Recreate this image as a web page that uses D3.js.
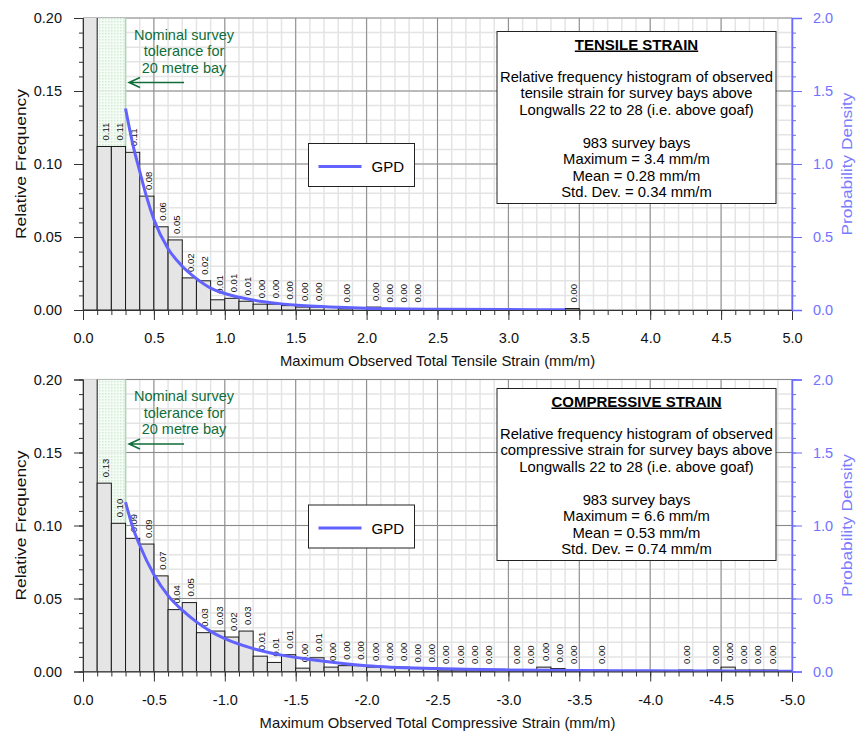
<!DOCTYPE html>
<html>
<head>
<meta charset="utf-8">
<script src="https://cdn.jsdelivr.net/npm/d3@7"></script>
<style>
  body { margin: 0; background: #fff; }
  svg { font-family: "Liberation Sans", Arial, sans-serif; }
</style>
</head>
<body>
<div id="chart"></div>
<script>
// bins are 0.1 mm/m wide, starting at 0.0
const binWidth = 0.1;
const tensileFreq = [
    0.400, 0.112, 0.112, 0.108, 0.078, 0.057, 0.048, 0.022, 0.020, 0.007,
    0.008, 0.006, 0.004, 0.004, 0.003, 0.002, 0.002, 0, 0.001, 0,
    0.002, 0.001, 0.001, 0.001, 0, 0, 0, 0, 0, 0,
    0, 0, 0, 0, 0.001, 0, 0, 0, 0, 0,
    0, 0, 0, 0, 0, 0, 0, 0, 0, 0
];
const compressiveFreq = [
    0.240, 0.129, 0.1015, 0.0912, 0.0873, 0.0655, 0.0424, 0.0472, 0.0266, 0.0277,
    0.0236, 0.0277, 0.0105, 0.0062, 0.0115, 0.0023, 0.0094, 0.003, 0.004, 0.004,
    0.003, 0.003, 0.003, 0.002, 0.002, 0.001, 0.001, 0.001, 0.001, 0,
    0.001, 0.001, 0.003, 0.002, 0.001, 0, 0.001, 0, 0, 0,
    0, 0, 0.001, 0, 0.001, 0.003, 0.001, 0.001, 0.001, 0
];

// fitted GPD curves
const tensileGpdX = [0.3, 0.35, 0.4, 0.45, 0.5, 0.6, 0.7, 0.8, 0.9, 1.0, 1.2, 1.4, 1.6, 1.8, 2.0, 2.5, 3.0, 3.4];
const tensileGpdY = [1.38, 1.14, 0.95, 0.77, 0.62, 0.42, 0.30, 0.215, 0.15, 0.113, 0.068, 0.042, 0.027, 0.018, 0.012, 0.005, 0.003, 0.002];
const compressiveGpdX = [0.3, 0.35, 0.4, 0.5, 0.6, 0.7, 0.8, 0.9, 1.0, 1.2, 1.4, 1.6, 1.8, 2.0, 2.5, 3.0, 3.5, 4.0, 4.5, 5.0];
const compressiveGpdY = [1.16, 0.99, 0.865, 0.665, 0.52, 0.42, 0.34, 0.275, 0.225, 0.157, 0.112, 0.082, 0.058, 0.04, 0.02, 0.011, 0.007, 0.005, 0.003, 0.002];

const xMajorTicks = [0, 0.5, 1.0, 1.5, 2.0, 2.5, 3.0, 3.5, 4.0, 4.5, 5.0];
const freqTicks = [0, 0.05, 0.10, 0.15, 0.20];
const densityTicks = [0, 0.5, 1.0, 1.5, 2.0];
const tolerance = 0.3;
const toleranceText = ["Nominal survey", "tolerance for", "20 metre bay"];

const tensileInfo = ["Relative frequency histogram of observed", "tensile strain for survey bays above",
    "Longwalls 22 to 28 (i.e. above goaf)", "", "983 survey bays", "Maximum = 3.4 mm/m",
    "Mean = 0.28 mm/m", "Std. Dev. = 0.34 mm/m"];
const compressiveInfo = ["Relative frequency histogram of observed", "compressive strain for survey bays above",
    "Longwalls 22 to 28 (i.e. above goaf)", "", "983 survey bays", "Maximum = 6.6 mm/m",
    "Mean = 0.53 mm/m", "Std. Dev. = 0.74 mm/m"];

const width = 858, height = 731;
const left = 83, right = 792, plotH = 292;
const gpdColor = "#6262ff";
const green = "#0f6e3a";

const svg = d3.select("#chart").append("svg")
    .attr("width", width)
    .attr("height", height);

const defs = svg.append("defs");
const pat = defs.append("pattern")
    .attr("id", "dots")
    .attr("width", 3).attr("height", 3)
    .attr("patternUnits", "userSpaceOnUse");
pat.append("rect").attr("width", 3).attr("height", 3).attr("fill", "#f4fbf5");
pat.append("rect").attr("width", 1.5).attr("height", 1.5).attr("fill", "#cdeccf");

const x = d3.scaleLinear().domain([0, 5]).range([left, right]);

function drawPanel(opts) {
    const top = opts.top, bottom = top + plotH;
    const y = d3.scaleLinear().domain([0, 0.2]).range([bottom, top]);
    const yd = d3.scaleLinear().domain([0, 2]).range([bottom, top]);
    const g = svg.append("g");

    defs.append("clipPath").attr("id", opts.id + "clip")
        .append("rect").attr("x", left).attr("y", top)
        .attr("width", right - left).attr("height", plotH);

    // grid
    const minorX = d3.range(0, 51).map(i => i / 10);
    const minorY = d3.range(0, 21).map(i => i / 100);
    g.append("g").selectAll("line").data(minorX).enter().append("line")
        .attr("x1", d => x(d)).attr("x2", d => x(d))
        .attr("y1", top).attr("y2", bottom)
        .attr("stroke", "#e4e4e4").attr("stroke-width", 1.5);
    g.append("g").selectAll("line").data(minorY).enter().append("line")
        .attr("x1", left).attr("x2", right)
        .attr("y1", d => y(d)).attr("y2", d => y(d))
        .attr("stroke", "#e4e4e4").attr("stroke-width", 1.5);
    g.append("g").selectAll("line").data(xMajorTicks).enter().append("line")
        .attr("x1", d => x(d)).attr("x2", d => x(d))
        .attr("y1", top).attr("y2", bottom)
        .attr("stroke", "#8a8a8a");
    g.append("g").selectAll("line").data(freqTicks).enter().append("line")
        .attr("x1", left).attr("x2", right)
        .attr("y1", d => y(d)).attr("y2", d => y(d))
        .attr("stroke", "#8a8a8a");

    // survey tolerance zone
    g.append("rect")
        .attr("x", x(0)).attr("y", top)
        .attr("width", x(tolerance) - x(0)).attr("height", plotH)
        .attr("fill", "url(#dots)").attr("opacity", 0.9);
    g.append("line")
        .attr("x1", x(tolerance)).attr("x2", x(tolerance))
        .attr("y1", top).attr("y2", bottom)
        .attr("stroke", "#a9d9b2").attr("stroke-width", 1.5);

    // histogram
    const bins = opts.freq.map((v, i) => ({ x0: i * binWidth, v: v })).filter(d => d.v > 0);
    g.append("g").attr("clip-path", `url(#${opts.id}clip)`)
        .selectAll("rect").data(bins).enter().append("rect")
        .attr("x", d => x(d.x0))
        .attr("y", d => y(d.v))
        .attr("width", x(binWidth) - x(0))
        .attr("height", d => bottom - y(d.v))
        .attr("fill", "#e5e5e5")
        .attr("stroke", "#1a1a1a")
        .attr("stroke-width", 1);

    g.append("g").selectAll("text").data(bins.filter(d => d.v <= 0.2)).enter().append("text")
        .attr("transform", d => `translate(${x(d.x0 + binWidth / 2) + 1.5},${y(d.v) - 6}) rotate(-90)`)
        .attr("dy", "0.35em")
        .attr("font-size", 9.5)
        .attr("fill", "#111")
        .text(d => d3.format(".2f")(d.v));

    // GPD curve
    const line = d3.line()
        .x(d => x(d[0]))
        .y(d => yd(d[1]))
        .curve(d3.curveMonotoneX);
    g.append("path")
        .attr("clip-path", `url(#${opts.id}clip)`)
        .datum(opts.gpdX.map((v, i) => [v, opts.gpdY[i]]))
        .attr("d", line)
        .attr("fill", "none")
        .attr("stroke", gpdColor)
        .attr("stroke-width", 3);

    // tolerance note
    g.selectAll(".note").data(toleranceText).enter().append("text")
        .attr("x", 184).attr("y", (d, i) => top + 21.5 + i * 16.5)
        .attr("text-anchor", "middle")
        .attr("font-size", 14.5)
        .attr("fill", green)
        .text(d => d);
    const ay = top + 64.5;
    g.append("path")
        .attr("d", `M184,${ay}H129M140,${ay - 5}L129,${ay}L140,${ay + 5}`)
        .attr("fill", "none").attr("stroke", green).attr("stroke-width", 1.5);

    // legend
    const lg = g.append("g").attr("transform", `translate(308.5,${top + 125.5})`);
    lg.append("rect").attr("width", 106).attr("height", 43)
        .attr("fill", "#fff").attr("stroke", "#222");
    lg.append("line").attr("x1", 10).attr("x2", 53).attr("y1", 23).attr("y2", 23)
        .attr("stroke", gpdColor).attr("stroke-width", 3);
    lg.append("text").attr("x", 63).attr("y", 28.5)
        .attr("font-size", 15).attr("fill", "#000").text("GPD");

    // info box
    const bx = g.append("g").attr("transform", `translate(497,${opts.boxY})`);
    bx.append("rect").attr("width", 279).attr("height", 172)
        .attr("fill", "#fff").attr("stroke", "#222");
    bx.append("text").attr("x", 139.5).attr("y", 18)
        .attr("text-anchor", "middle").attr("font-size", 15).attr("font-weight", "bold")
        .style("text-decoration", "underline")
        .text(opts.title);
    bx.selectAll(".info").data(opts.info).enter().append("text")
        .attr("x", 139.5).attr("y", (d, i) => 50 + i * 16.5)
        .attr("text-anchor", "middle").attr("font-size", 14.8)
        .text(d => d);

    // axes
    const xAxis = g.append("g").attr("transform", `translate(0,${bottom})`)
        .call(d3.axisBottom(x).tickValues(xMajorTicks).tickSize(10).tickPadding(13)
            .tickFormat(d => d === 0 ? "0.0" : (opts.negate ? "-" : "") + d3.format(".1f")(d)));
    xAxis.append("g").call(d3.axisBottom(x).tickValues(minorX).tickSize(5).tickFormat(""))
        .select(".domain").remove();
    xAxis.selectAll("text").attr("font-size", 14.5).attr("fill", "#111");

    const yAxis = g.append("g").attr("transform", `translate(${left},0)`)
        .call(d3.axisLeft(y).tickValues(freqTicks).tickSize(9).tickPadding(12).tickFormat(d3.format(".2f")));
    yAxis.append("g").call(d3.axisLeft(y).tickValues(minorY).tickSize(4).tickFormat(""))
        .select(".domain").remove();
    yAxis.selectAll("text").attr("font-size", 14.5).attr("fill", "#111");

    const rAxis = g.append("g").attr("transform", `translate(${right},0)`)
        .call(d3.axisRight(yd).tickValues(densityTicks).tickSize(10).tickPadding(11).tickFormat(d3.format(".1f")));
    rAxis.append("g").call(d3.axisRight(yd).tickValues(d3.range(0, 21).map(i => i / 10)).tickSize(4).tickFormat(""))
        .select(".domain").remove();
    rAxis.selectAll("path, line").attr("stroke", "#6a6aff");
    rAxis.selectAll("text").attr("font-size", 14.5).attr("fill", "#7272ff");
    rAxis.select(".domain").attr("stroke-width", 1.5);

    xAxis.selectAll("path, line").attr("stroke", "#333");
    yAxis.selectAll("path, line").attr("stroke", "#333");

    g.append("text")
        .attr("x", (left + right) / 2).attr("y", bottom + 56)
        .attr("text-anchor", "middle").attr("font-size", 14.8).attr("fill", "#111")
        .text(opts.xLabel);
    g.append("text")
        .attr("transform", `translate(21,${(top + bottom) / 2}) rotate(-90)`)
        .attr("dy", "0.35em")
        .attr("text-anchor", "middle").attr("font-size", 15).attr("fill", "#111")
        .attr("textLength", 150).attr("lengthAdjust", "spacingAndGlyphs")
        .text("Relative Frequency");
    g.append("text")
        .attr("transform", `translate(847,${(top + bottom) / 2}) rotate(-90)`)
        .attr("dy", "0.35em")
        .attr("text-anchor", "middle").attr("font-size", 15).attr("fill", "#7b7bff")
        .attr("textLength", 143).attr("lengthAdjust", "spacingAndGlyphs")
        .text("Probability Density");
}

drawPanel({
    id: "ten", top: 18, boxY: 31.5,
    freq: tensileFreq, gpdX: tensileGpdX, gpdY: tensileGpdY,
    title: "TENSILE STRAIN", info: tensileInfo, negate: false,
    xLabel: "Maximum Observed Total Tensile Strain (mm/m)"
});
drawPanel({
    id: "comp", top: 379.5, boxY: 388.5,
    freq: compressiveFreq, gpdX: compressiveGpdX, gpdY: compressiveGpdY,
    title: "COMPRESSIVE STRAIN", info: compressiveInfo, negate: true,
    xLabel: "Maximum Observed Total Compressive Strain (mm/m)"
});
</script>
</body>
</html>
